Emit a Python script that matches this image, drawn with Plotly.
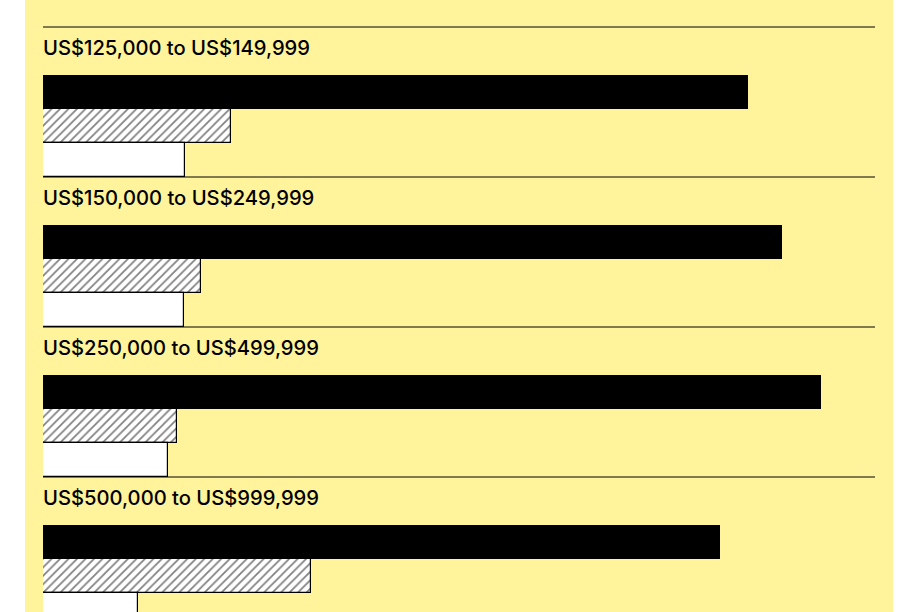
import plotly.graph_objects as go
from plotly.subplots import make_subplots

# ---- data ----
categories = ["US$125,000 to US$149,999", "US$150,000 to US$249,999",
              "US$250,000 to US$499,999", "US$500,000 to US$999,999"]
series_names = ["Series A", "Series B", "Series C"]
series_a = [78.3, 82.1, 86.4, 75.2]   # solid black
series_b = [20.9, 17.6, 14.9, 29.8]   # hatched
series_c = [15.8, 15.7, 13.9, 10.6]   # white

W, H = 907, 612
YELLOW = "#FFF39B"

fig = make_subplots(rows=4, cols=1, shared_xaxes=False)

def py(px):
    return 1 - px / H

# yellow panel (added first so separator lines draw above it)
fig.add_shape(type="rect", xref="paper", yref="paper",
              x0=25 / W, x1=893 / W, y0=0, y1=1,
              fillcolor=YELLOW, line=dict(width=0), layer="below")

tops = [75, 225, 375, 525]
bar_h = 34
x0p, x1p = 43 / W, 875 / W

styles = [
    dict(color="#000000", line=dict(width=0)),
    dict(color="#FFFFFF", line=dict(color="#000000", width=1.2),
         pattern=dict(shape="/", fgcolor="#000000", bgcolor="#FFFFFF", size=6, solidity=0.28)),
    dict(color="#FFFFFF", line=dict(color="#000000", width=1.2)),
]
all_series = [series_a, series_b, series_c]

for i, cat in enumerate(categories):
    for s, name in enumerate(series_names):
        fig.add_trace(go.Bar(
            x=[all_series[s][i]], y=[name], orientation="h",
            marker=styles[s], name=name, showlegend=False,
            hoverinfo="x+y",
        ), row=i + 1, col=1)

    top = tops[i]
    bottom = min(top + 3 * bar_h, H)
    yaxis_name = "yaxis" if i == 0 else f"yaxis{i + 1}"
    xaxis_name = "xaxis" if i == 0 else f"xaxis{i + 1}"
    visible = (bottom - top) / bar_h
    fig.layout[yaxis_name].update(
        domain=[py(bottom), py(top)], range=[-0.5 + visible, -0.5],
        visible=False, fixedrange=True,
    )
    fig.layout[xaxis_name].update(
        domain=[x0p, x1p], range=[0, 832 / 9.0], visible=False,
    )
    # label
    fig.add_annotation(
        text=cat, xref="paper", yref="paper", x=x0p - 2 / W, y=py(top - 27.5),
        xanchor="left", yanchor="middle", showarrow=False,
        font=dict(family="Inter", size=20.2, color="#000000", weight=500),
    )
    # separator line above label
    fig.add_shape(type="line", xref="paper", yref="paper",
                  x0=x0p, x1=x1p, y0=py(top - 48), y1=py(top - 48),
                  line=dict(color="#000000", width=1), layer="below")

fig.update_layout(
    width=W, height=H,
    margin=dict(l=0, r=0, t=0, b=0),
    paper_bgcolor="#FFFFFF", plot_bgcolor="rgba(0,0,0,0)",
    barmode="overlay", bargap=0,
    showlegend=False,
)

fig.write_html("out.html", config={"displayModeBar": False},
               post_script="document.body.style.margin='0';")
